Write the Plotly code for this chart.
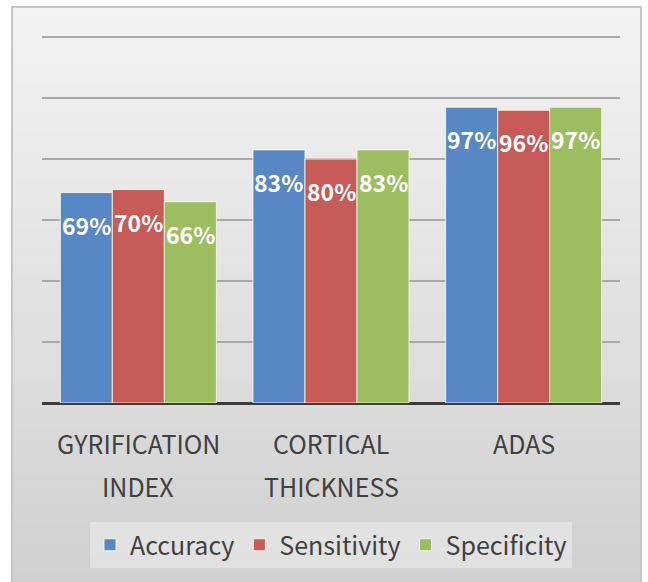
import plotly.graph_objects as go

categories = ["GYRIFICATION INDEX", "CORTICAL THICKNESS", "ADAS"]
label_line1 = ["GYRIFICATION", "CORTICAL", "ADAS"]
label_line2 = ["INDEX", "THICKNESS", ""]
series_names = ["Accuracy", "Sensitivity", "Specificity"]
accuracy = [69, 83, 97]
sensitivity = [70, 80, 96]
specificity = [66, 83, 97]
series_values = [accuracy, sensitivity, specificity]
colors = ["#5787c4", "#c65b58", "#9dbe60"]

W, H = 648, 582
ML, MR, MT, MB = 42, 28, 34, 179
PW, PH = W - ML - MR, H - MT - MB
YMAX = 121
BARGAP = 0.19
FONT = "Noto Sans CJK KR, Malgun Gothic, Noto Sans, sans-serif"


def px_x(px):
    return (px - ML) / PW


def px_y(py):
    return (H - MB - py) / PH


fig = go.Figure()
for name, vals, col in zip(series_names, series_values, colors):
    fig.add_trace(go.Bar(
        x=categories, y=vals, name=name,
        marker=dict(color=col, line=dict(color="rgba(250,250,235,0.85)", width=1)),
        hoverinfo="skip",
    ))

# background gradient strips (panel)
shapes = []
top_px, bot_px = 7, 582
left_px, right_px = 12, 641
n = 60
c0, c1 = 243, 208
for i in range(n):
    ya = top_px + (bot_px - top_px) * i / n
    yb = top_px + (bot_px - top_px) * (i + 1) / n + 0.6
    c = round(c0 + (c1 - c0) * (i + 0.5) / n)
    shapes.append(dict(type="rect", xref="paper", yref="paper", layer="below",
                       x0=px_x(left_px), x1=px_x(right_px), y0=px_y(yb), y1=px_y(ya),
                       fillcolor=f"rgb({c},{c},{c})", line=dict(width=0)))
shapes.append(dict(type="rect", xref="paper", yref="paper", layer="below",
                   x0=px_x(left_px), x1=px_x(right_px), y0=px_y(bot_px + 5), y1=px_y(top_px),
                   fillcolor="rgba(0,0,0,0)", line=dict(color="#c6c6c6", width=2)))

annotations = []
bw = (1 - BARGAP) / len(series_names)
for j, vals in enumerate(series_values):
    off = (j - 1) * bw
    for i, v in enumerate(vals):
        annotations.append(dict(
            x=i + off, y=v, xref="x", yref="y", text=f"{v}%", showarrow=False,
            yanchor="middle", yshift=-32,
            font=dict(family=FONT, size=23, color="white", weight="bold"),
        ))
for i, (l1, l2) in enumerate(zip(label_line1, label_line2)):
    annotations.append(dict(x=categories[i], y=0, xref="x", yref="y", text=l1,
                            showarrow=False, yanchor="middle", yshift=-40,
                            font=dict(family=FONT, size=25, color="#404040")))
    if l2:
        annotations.append(dict(x=categories[i], y=0, xref="x", yref="y", text=l2,
                                showarrow=False, yanchor="middle", yshift=-83,
                                font=dict(family=FONT, size=25, color="#404040")))

fig.update_layout(
    width=W, height=H,
    margin=dict(l=ML, r=MR, t=MT, b=MB, pad=0),
    paper_bgcolor="white", plot_bgcolor="rgba(0,0,0,0)",
    barmode="group", bargap=BARGAP, bargroupgap=0,
    shapes=shapes, annotations=annotations,
    showlegend=True,
    legend=dict(orientation="h", x=0.5, xanchor="center", y=px_y(545), yanchor="middle",
                bgcolor="rgba(238,238,238,0.55)", borderwidth=0,
                font=dict(family=FONT, size=25, color="#404040"),
                itemclick=False, itemdoubleclick=False),
    xaxis=dict(showticklabels=False, showgrid=False, zeroline=False, showline=False,
               ticks=""),
    yaxis=dict(range=[0, YMAX], tickvals=[20, 40, 60, 80, 100, 120], showticklabels=False,
               showgrid=True, gridcolor="#a8a8a8", gridwidth=1.5, zeroline=True,
               zerolinecolor="#3c3c3c", zerolinewidth=3, ticks="", showline=False),
)

fig.write_html("out.html")
